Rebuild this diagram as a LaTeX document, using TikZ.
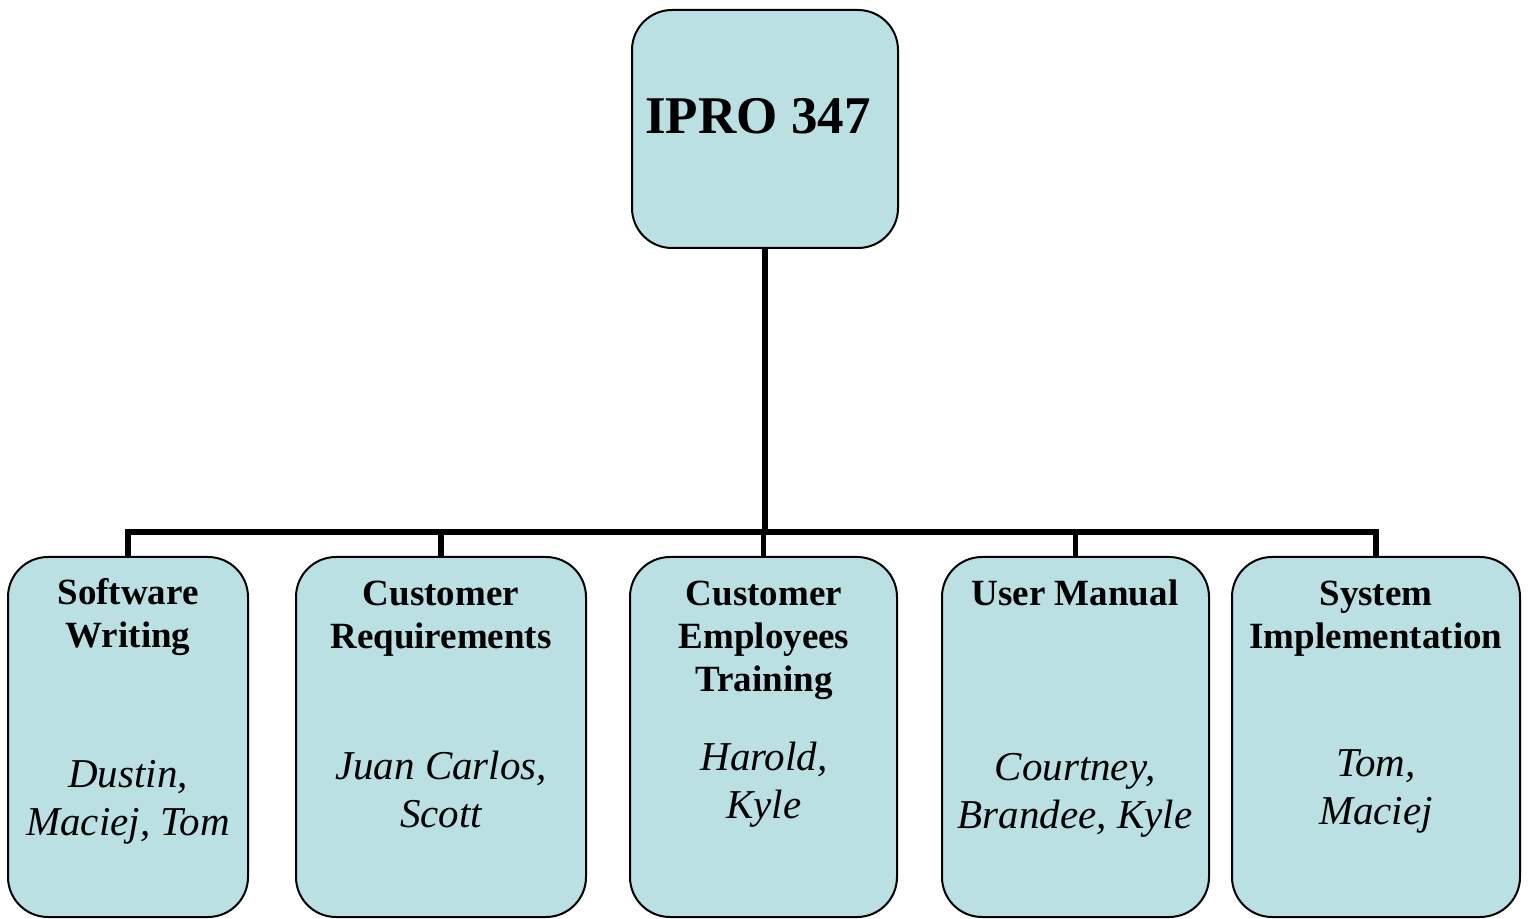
\documentclass[tikz,border=0pt]{standalone}
\usepackage{fontspec}
\setmainfont{Liberation Serif}
\definecolor{boxfill}{RGB}{186,224,228}
\begin{document}
\begin{tikzpicture}[x=0.5pt,y=-0.5pt,
  box/.style={draw=black,line width=1pt,fill=boxfill,rounded corners=20pt,inner sep=0pt},
  link/.style={line width=2.7pt},
  ttl/.style={align=center,font=\fontsize{18.5}{21.5}\selectfont\bfseries,inner sep=0pt},
  who/.style={align=center,font=\fontsize{20.5}{24}\selectfont\itshape,inner sep=0pt}]
\useasboundingbox (0,0) rectangle (1528,919);
% top box
\node[box,minimum width=133pt,minimum height=119pt] (top) at (765,129) {};
\node[font=\fontsize{26.5}{30}\selectfont\bfseries,inner sep=0pt] (toptext) at (758,116) {IPRO 347};
% bottom boxes
\node[box,minimum width=120pt,minimum height=180pt] (b1) at (128,737) {};
\node[box,minimum width=145pt,minimum height=180pt] (b2) at (441,737) {};
\node[box,minimum width=133.5pt,minimum height=180pt] (b3) at (763.5,737) {};
\node[box,minimum width=133.5pt,minimum height=180pt] (b4) at (1075.5,737) {};
\node[box,minimum width=144pt,minimum height=180pt] (b5) at (1376,737) {};
% connectors
\coordinate (bus) at (765,532);
\draw[link] (top.south) -- (bus);
\draw[link] (b1.north) |- (bus);
\draw[link] (b5.north) |- (bus);
\draw[link] (b2.north) -- (b2.north |- bus);
\draw[link] (b3.north) -- (b3.north |- bus);
\draw[link] (b4.north) -- (b4.north |- bus);
% texts
\node[ttl] (t1) at (128,617) {Software\\Writing};
\node[who] (n1) at (128,802) {Dustin,\\Maciej, Tom};
\node[ttl] (t2) at (441,619) {Customer\\Requirements};
\node[who] (n2) at (441,789) {Juan Carlos,\\Scott};
\node[ttl] (t3) at (764,640) {Customer\\Employees\\Training};
\node[who] (n3) at (764,785) {Harold,\\Kyle};
\node[ttl] (t4) at (1075,593) {User Manual};
\node[who] (n4) at (1075,795) {Courtney,\\Brandee, Kyle};
\node[ttl] (t5) at (1376,619) {System\\Implementation};
\node[who] (n5) at (1376,791) {Tom,\\Maciej};
\end{tikzpicture}
\end{document}
